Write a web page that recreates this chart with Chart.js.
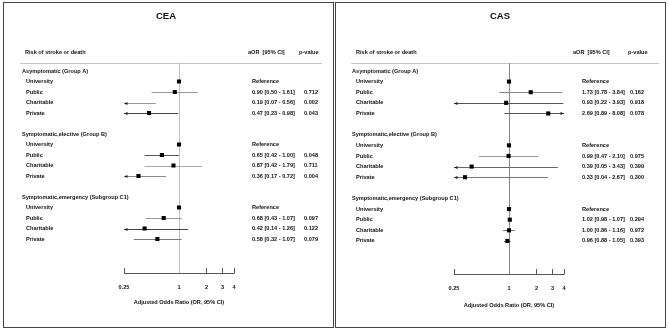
<!DOCTYPE html>
<html>
<head>
<meta charset="utf-8">
<script src="https://cdn.jsdelivr.net/npm/chart.js@4.4.1/dist/chart.umd.min.js"></script>
<style>
  html, body { margin: 0; padding: 0; background: #fff; }
  body { width: 669px; height: 331px; position: relative; overflow: hidden; }
  .panel { position: absolute; top: 2px; width: 331px; height: 326px; box-sizing: border-box; border: 1px solid #444; }
  .panel canvas { position: absolute; left: 0; top: 0; }
</style>
</head>
<body>
<div class="panel" style="left:3px"><canvas id="cea" width="329" height="324"></canvas></div>
<div class="panel" style="left:335px"><canvas id="cas" width="329" height="324"></canvas></div>
<script>
// categories
const groups = ["Asymptomatic (Group A)", "Symptomatic,elective (Group B)", "Symptomatic,emergency (Subgroup C1)"];
const hospitals = ["University", "Public", "Charitable", "Private"];
const xTicks = [0.25, 1, 2, 3, 4];

// CEA: adjusted odds ratios, 95% CI, p-values (per group: University, Public, Charitable, Private)
const ceaOR = [1, 0.90, 0.19, 0.47, 1, 0.65, 0.87, 0.36, 1, 0.68, 0.42, 0.58];
const ceaLo = [null, 0.50, 0.07, 0.23, null, 0.42, 0.42, 0.17, null, 0.43, 0.14, 0.32];
const ceaHi = [null, 1.61, 0.56, 0.98, null, 1.00, 1.79, 0.72, null, 1.07, 1.26, 1.07];
const ceaP = [null, "0.712", "0.002", "0.043", null, "0.048", "0.711", "0.004", null, "0.097", "0.122", "0.079"];

// CAS
const casOR = [1, 1.73, 0.93, 2.69, 1, 0.99, 0.39, 0.33, 1, 1.02, 1.00, 0.96];
const casLo = [null, 0.78, 0.22, 0.89, null, 0.47, 0.05, 0.04, null, 0.98, 0.86, 0.88];
const casHi = [null, 3.84, 3.93, 8.08, null, 2.10, 3.43, 2.67, null, 1.07, 1.16, 1.05];
const casP = [null, "0.162", "0.918", "0.078", null, "0.975", "0.399", "0.300", null, "0.294", "0.972", "0.393"];

// line shades of the CI whiskers
const ceaCiColors = ["", "#999", "#999", "#444", "", "#555", "#aaa", "#888", "", "#999", "#444", "#777"];
const casCiColors = ["", "#888", "#555", "#555", "", "#999", "#666", "#777", "", "#777", "#777", "#777"];

const FONT = '"Liberation Sans", Arial, Helvetica, sans-serif';
const SMALL = 5.6;
const AX_MIN = xTicks[0], AX_MAX = xTicks[xTicks.length - 1];

const rowOf = i => Math.floor(i / 4) * 6 + 1 + (i % 4);

function seg(ctx, x0, y0, x1, y1) {
  ctx.beginPath(); ctx.moveTo(x0, y0); ctx.lineTo(x1, y1); ctx.stroke();
}
function arrow(ctx, xt, y, dir) {
  ctx.fillStyle = '#222';
  ctx.beginPath();
  ctx.moveTo(xt, y);
  ctx.lineTo(xt - dir * 3.5, y - 1.6);
  ctx.lineTo(xt - dir * 3.5, y + 1.6);
  ctx.closePath(); ctx.fill();
}

function forestPlugin(p) {
  return {
    id: 'forest',
    beforeDatasetsDraw(chart) {
      const ctx = chart.ctx, xs = chart.scales.x, ys = chart.scales.y, a = chart.chartArea;
      ctx.save();
      ctx.lineWidth = 1;
      // header separator
      ctx.strokeStyle = '#c4c4c4';
      seg(ctx, p.sepLeft, Math.round(a.top) + 0.5, p.sepRight, Math.round(a.top) + 0.5);
      // reference line at OR = 1
      const x1 = Math.round(xs.getPixelForValue(1)) + 0.5;
      ctx.strokeStyle = p.refColor;
      seg(ctx, x1, a.top, x1, a.bottom + 5);
      // axis line
      ctx.strokeStyle = '#555';
      const yAx = Math.round(a.bottom + 5) + 0.5;
      seg(ctx, xs.getPixelForValue(AX_MIN), yAx, xs.getPixelForValue(AX_MAX) + 0.5, yAx);
      // confidence intervals
      p.lo.forEach((lo, i) => {
        if (lo == null) return;
        const hi = p.hi[i];
        const py = Math.round(ys.getPixelForValue(rowOf(i))) + 0.5;
        const xl = xs.getPixelForValue(Math.max(lo, AX_MIN));
        const xr = xs.getPixelForValue(Math.min(hi, AX_MAX));
        ctx.strokeStyle = p.ciColors[i];
        seg(ctx, xl, py, xr, py);
        if (lo < AX_MIN) arrow(ctx, xl, py, -1);
        if (hi > AX_MAX) arrow(ctx, xr, py, 1);
      });
      ctx.restore();
    },
    afterDraw(chart) {
      const ctx = chart.ctx, ys = chart.scales.y;
      ctx.save();
      ctx.fillStyle = '#111';
      ctx.textBaseline = 'middle';
      // title
      ctx.font = 'bold 9.5px ' + FONT;
      ctx.textAlign = 'center';
      ctx.fillText(p.title, p.titleX, 13);
      // column headers
      ctx.font = 'bold ' + SMALL + 'px ' + FONT;
      ctx.textAlign = 'left';
      ctx.fillText('Risk of stroke or death', p.headX, p.headY);
      ctx.fillText('aOR  [95% CI]', p.aorHeadX, p.headY);
      ctx.fillText('p-value', p.pHeadX, p.headY);
      // rows
      groups.forEach((g, gi) => {
        ctx.fillText(g, p.groupX, ys.getPixelForValue(gi * 6));
      });
      p.or.forEach((or, i) => {
        const py = ys.getPixelForValue(rowOf(i));
        ctx.fillText(hospitals[i % 4], p.itemX, py);
        const lo = p.lo[i];
        const txt = lo == null ? 'Reference'
          : or.toFixed(2) + ' [' + lo.toFixed(2) + ' - ' + p.hi[i].toFixed(2) + ']';
        ctx.fillText(txt, p.valX, py);
        if (p.pv[i]) ctx.fillText(p.pv[i], p.pX, py);
      });
      ctx.restore();
    }
  };
}

function makePanel(id, p) {
  const points = p.or.map((v, i) => ({ x: v, y: rowOf(i) }));
  new Chart(document.getElementById(id), {
    type: 'scatter',
    data: {
      datasets: [{
        data: points,
        pointStyle: 'rect',
        pointRadius: 2.9,
        backgroundColor: '#000',
        borderWidth: 0
      }]
    },
    options: {
      responsive: false,
      animation: false,
      events: [],
      layout: { padding: p.pad },
      plugins: { legend: { display: false }, tooltip: { enabled: false } },
      scales: {
        x: {
          type: 'logarithmic',
          min: AX_MIN, max: AX_MAX,
          afterBuildTicks: s => { s.ticks = xTicks.map(v => ({ value: v })); },
          afterFit: s => { s.height = 40; },
          grid: { drawOnChartArea: false, tickLength: 5, color: '#555', lineWidth: 1 },
          border: { display: false },
          ticks: {
            autoSkip: false, maxRotation: 0, padding: p.tickPad,
            color: '#111', font: { family: FONT, size: SMALL, weight: 'bold' },
            callback: v => String(v)
          },
          title: {
            display: true, text: 'Adjusted Odds Ratio (OR, 95% CI)',
            color: '#111', font: { family: FONT, size: SMALL, weight: 'bold' },
            padding: { top: 0, bottom: p.titlePad }
          }
        },
        y: {
          type: 'linear', display: false, reverse: true,
          min: p.yMin, max: p.yMax
        }
      }
    },
    plugins: [forestPlugin(p)]
  });
}

makePanel('cea', {
  title: 'CEA', or: ceaOR, lo: ceaLo, hi: ceaHi, pv: ceaP, ciColors: ceaCiColors,
  refColor: '#c4c4c4',
  pad: { left: 120, right: 99, top: 59.6, bottom: 19 },
  yMin: -0.8, yMax: 18.76, tickPad: 11, titlePad: 2,
  titleX: 162, headX: 21, headY: 49, aorHeadX: 244, pHeadX: 295,
  groupX: 18, itemX: 22, valX: 248, pX: 300, sepLeft: 16, sepRight: 318
});

makePanel('cas', {
  title: 'CAS', or: casOR, lo: casLo, hi: casHi, pv: casP, ciColors: casCiColors,
  refColor: '#888',
  pad: { left: 118, right: 101, top: 60, bottom: 18 },
  yMin: -0.75, yMax: 18.64, tickPad: 11, titlePad: 0,
  titleX: 164, headX: 20, headY: 49, aorHeadX: 237, pHeadX: 292,
  groupX: 16, itemX: 20, valX: 246, pX: 294, sepLeft: 15, sepRight: 323
});
</script>
</body>
</html>
